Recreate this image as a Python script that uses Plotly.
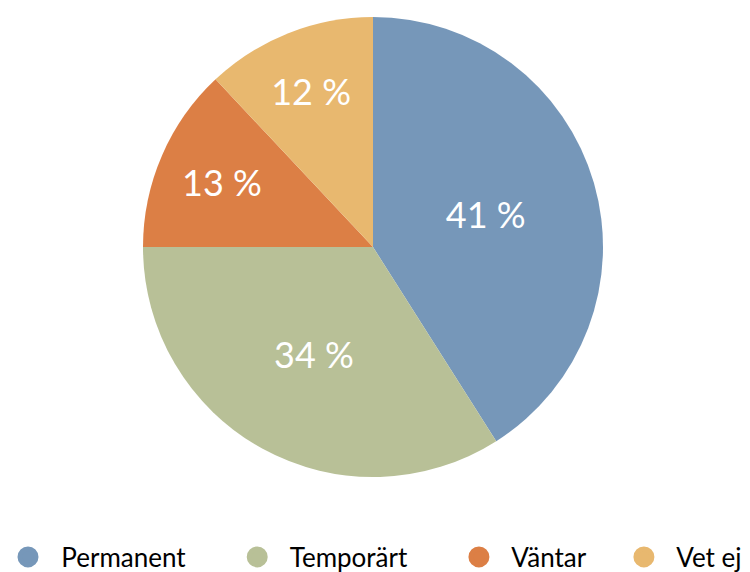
import plotly.graph_objects as go

categories = ["Permanent", "Temporärt", "Väntar", "Vet ej"]
values = [41, 34, 13, 12]
colors = ["#7697b9", "#b8c097", "#dc7f45", "#e8b86f"]
legend_lead = 2              # non-breaking spaces before each legend label
legend_pad = [7, 7, 5, 0]    # non-breaking spaces after each legend label

FONT = "Lato"
OFF = 8                 # page body adds an 8px margin
W, H = 800, 590         # figure a little larger than the window; overflow is off-screen
PLOT_H = 500            # plot area height (top margin 0)
NB = "\u00a0"

def px_x(x):
    return (x - OFF) / W

def px_y(y):
    return 1 - (y - OFF) / PLOT_H

fig = go.Figure()
fig.add_trace(go.Pie(
    labels=categories,
    values=values,
    sort=False,
    direction="clockwise",
    rotation=0,
    marker=dict(colors=colors, line=dict(width=0)),
    texttemplate="%{value} %",
    textposition="inside",
    insidetextorientation="horizontal",
    insidetextfont=dict(color="white", size=36, family=FONT),
    showlegend=False,
    hoverinfo="label+percent",
    domain=dict(x=[px_x(143), px_x(603)], y=[px_y(477.5), px_y(16.5)]),
))

for name, col, pad in zip(categories, colors, legend_pad):
    fig.add_trace(go.Scatter(
        x=[None], y=[None], mode="markers",
        name=NB * legend_lead + name + NB * pad,
        marker=dict(symbol="circle", size=16, color=col,
                    line=dict(color=col, width=5)),
        showlegend=True,
    ))

fig.update_layout(
    width=W, height=H,
    margin=dict(l=0, r=0, t=0, b=H - PLOT_H),
    paper_bgcolor="white", plot_bgcolor="white",
    font=dict(family=FONT, color="black"),
    xaxis=dict(visible=False), yaxis=dict(visible=False),
    legend=dict(
        orientation="h",
        x=0, xanchor="left",
        y=px_y(557), yanchor="middle",
        font=dict(size=26, family=FONT, color="black"),
        itemsizing="trace",
        bgcolor="rgba(0,0,0,0)",
    ),
)

fig.write_html("out.html")
